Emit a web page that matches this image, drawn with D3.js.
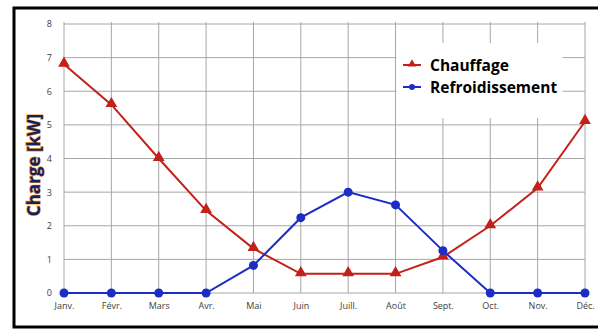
<!DOCTYPE html>
<html>
<head>
<meta charset="utf-8">
<script src="https://cdn.jsdelivr.net/npm/d3@7"></script>
<style>
  html, body { margin: 0; padding: 0; background: #fff; }
  svg { display: block; }
</style>
</head>
<body>
<svg id="chart" width="598" height="329"></svg>
<script>
// Monthly loads (kW)
const months = ["Janv.", "Févr.", "Mars", "Avr.", "Mai", "Juin", "Juill.", "Août", "Sept.", "Oct.", "Nov.", "Déc."];
const chauffage = [6.8, 5.6, 4.0, 2.45, 1.32, 0.57, 0.57, 0.57, 1.07, 2.0, 3.12, 5.1];
const refroidissement = [0, 0, 0, 0, 0.82, 2.24, 3.0, 2.62, 1.26, 0, 0, 0];
const yTicks = [0, 1, 2, 3, 4, 5, 6, 7, 8];
const seriesNames = ["Chauffage", "Refroidissement"];

(function () {
  const svg = d3.select("#chart");

  // Outer frame
  svg.append("rect")
    .attr("x", 14).attr("y", 8).attr("width", 620).attr("height", 319)
    .attr("fill", "#fff").attr("stroke", "#000").attr("stroke-width", 3);

  const plotL = 64, plotR = 585, plotT = 24, plotB = 293;

  const x = d3.scalePoint().domain(months).range([plotL, plotR]);
  const y = d3.scaleLinear().domain([0, 8]).range([plotB, plotT]);

  const grid = svg.append("g");
  // Horizontal gridlines
  grid.selectAll("line.h").data(yTicks).join("line")
    .attr("class", "h")
    .attr("x1", plotL).attr("x2", plotR)
    .attr("y1", d => y(d)).attr("y2", d => y(d))
    .attr("stroke", "#a6a6a6").attr("stroke-width", 1);
  // Vertical gridlines
  grid.selectAll("line.v").data(months).join("line")
    .attr("class", "v")
    .attr("x1", d => x(d)).attr("x2", d => x(d))
    .attr("y1", plotT - 2).attr("y2", plotB)
    .attr("stroke", "#a6a6a6").attr("stroke-width", 1);

  // Y axis labels
  const yAxis = d3.axisLeft(y).tickValues(yTicks).tickSize(0).tickPadding(12).tickFormat(d3.format("d"));
  const yg = svg.append("g").attr("transform", `translate(${plotL},0)`).call(yAxis);
  yg.select(".domain").remove();
  yg.selectAll("text").attr("font-family", "'Open Sans', sans-serif").attr("font-size", 9).attr("fill", "#404040");

  // X axis labels
  const xAxis = d3.axisBottom(x).tickSize(0).tickPadding(10);
  const xg = svg.append("g").attr("transform", `translate(0,${plotB})`).call(xAxis);
  xg.select(".domain").remove();
  xg.selectAll("text").attr("font-family", "'Open Sans', sans-serif").attr("font-size", 9).attr("fill", "#404040");

  // Y axis title
  svg.append("text")
    .attr("transform", "translate(40,165) rotate(-90)")
    .attr("text-anchor", "middle")
    .attr("font-family", "'Open Sans', sans-serif").attr("font-weight", "bold").attr("font-size", 17)
    .attr("fill", "#14215e").attr("stroke", "#f0a030").attr("stroke-width", 1.2)
    .attr("paint-order", "stroke")
    .text("Charge [kW]");

  const red = "#c4201a", blue = "#1c2cc4";
  const line = d3.line().x((d, i) => x(months[i])).y(d => y(d));

  // Legend background box
  svg.append("rect").attr("x", 396.5).attr("y", 43).attr("width", 166).attr("height", 75).attr("fill", "#fff");

  // Chauffage
  svg.append("path").datum(chauffage).attr("d", line)
    .attr("fill", "none").attr("stroke", red).attr("stroke-width", 2);
  const tri = d3.symbol().type(d3.symbolTriangle).size(60);
  svg.selectAll("path.tri").data(chauffage).join("path")
    .attr("class", "tri")
    .attr("d", tri)
    .attr("transform", (d, i) => `translate(${x(months[i])},${y(d) - 1})`)
    .attr("fill", red);

  // Refroidissement
  svg.append("path").datum(refroidissement).attr("d", line)
    .attr("fill", "none").attr("stroke", blue).attr("stroke-width", 2);
  svg.selectAll("circle.dot").data(refroidissement).join("circle")
    .attr("class", "dot")
    .attr("cx", (d, i) => x(months[i])).attr("cy", d => y(d))
    .attr("r", 4.5).attr("fill", blue);

  // Legend
  const legend = svg.append("g");
  const legY = [65, 87];
  const colors = [red, blue];
  seriesNames.forEach((name, i) => {
    legend.append("line").attr("x1", 403).attr("x2", 421).attr("y1", legY[i]).attr("y2", legY[i])
      .attr("stroke", colors[i]).attr("stroke-width", 2);
    if (i === 0) {
      legend.append("path").attr("d", d3.symbol().type(d3.symbolTriangle).size(30))
        .attr("transform", `translate(412,${legY[i] - 1})`).attr("fill", red);
    } else {
      legend.append("circle").attr("cx", 412).attr("cy", legY[i]).attr("r", 3).attr("fill", blue);
    }
    legend.append("text").attr("x", 430).attr("y", legY[i] + 5.5)
      .attr("font-family", "'Open Sans', sans-serif").attr("font-weight", "bold").attr("font-size", 15.5)
      .attr("fill", "#000").text(name);
  });
})();
</script>
</body>
</html>
